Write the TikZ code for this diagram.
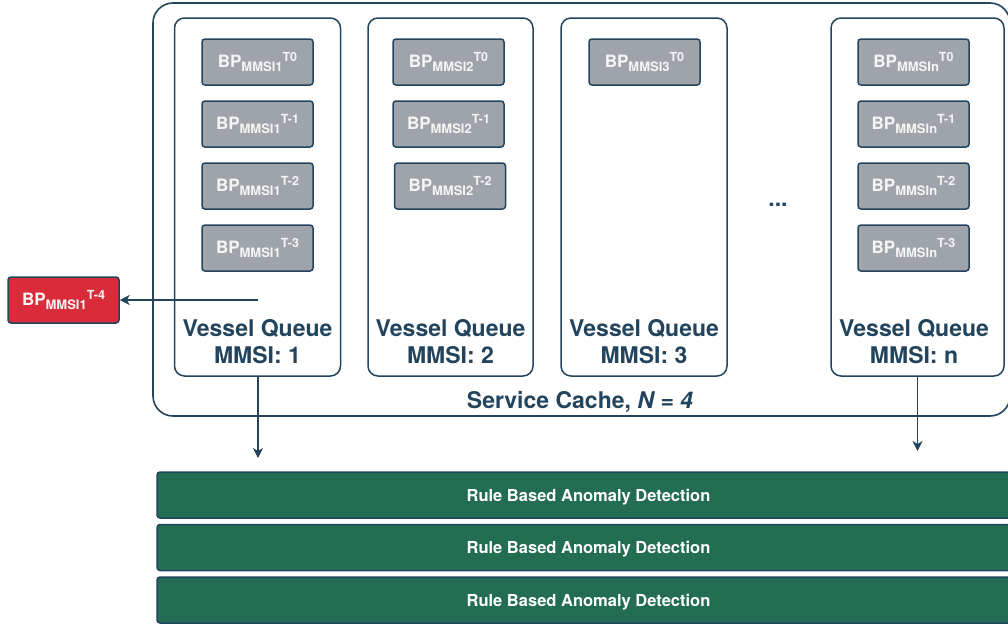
\documentclass[tikz,border=0pt]{standalone}
\usepackage{fontspec}
\setmainfont{TeX Gyre Heros}
\usetikzlibrary{arrows.meta}

\definecolor{navy}{HTML}{23445D}
\definecolor{boxgray}{HTML}{9FA3AA}
\definecolor{alertred}{HTML}{D92B3A}
\definecolor{rulegreen}{HTML}{236E52}
\definecolor{softwhite}{HTML}{F5F5F5}

% BP label with a subscript followed by a superscript
\newcommand{\bplabel}[2]{BP\raisebox{-4pt}{\fontsize{13}{13}\selectfont #1}\raisebox{6.5pt}{\fontsize{12.5}{12.5}\selectfont #2}}

\tikzset{
  cachebox/.style={draw=navy, line width=1.6pt, rounded corners=20pt,
    minimum width=857pt, minimum height=413pt, inner sep=0pt},
  queuebox/.style={draw=navy, line width=1.5pt, rounded corners=10pt,
    minimum height=358pt, inner sep=0pt},
  bpbox/.style={draw=navy, fill=boxgray, line width=1.5pt, rounded corners=3pt,
    minimum width=111pt, minimum height=46pt, inner sep=0pt,
    text=softwhite, font=\fontsize{17}{17}\selectfont\bfseries},
  evictbox/.style={bpbox, fill=alertred},
  queuetext/.style={text=navy, align=center, inner sep=0pt,
    font=\fontsize{23}{27}\selectfont\bfseries},
  rulebar/.style={draw=navy, fill=rulegreen, line width=1.5pt, rounded corners=3pt,
    minimum width=863pt, minimum height=46pt, inner sep=0pt, text depth=0pt,
    text=white, font=\fontsize{16.5}{16.5}\selectfont\bfseries},
  arr/.style={draw=navy, line width=1.5pt,
    -{Stealth[length=10pt, width=10pt, inset=3pt]}}
}

\begin{document}
\begin{tikzpicture}[x=1pt, y=-1pt]
  \useasboundingbox (0,0) rectangle (1008,624);
  \clip (0,0) rectangle (1008,624);

  % service cache
  \node[cachebox] (cache) at (581.5,209.5) {};
  \node[queuetext] (cachetext) at (580,402) {Service Cache, \textit{N = 4}};

  % vessel queues
  \node[queuebox, minimum width=166pt] (q1) at (257.5,197) {};
  \node[queuebox, minimum width=165pt] (q2) at (450.5,197) {};
  \node[queuebox, minimum width=166pt] (q3) at (644,197) {};
  \node[queuebox, minimum width=173pt] (qn) at (917.5,197) {};

  \node[queuetext] (q1t) at (257.5,341.5) {Vessel Queue\\MMSI: 1};
  \node[queuetext] (q2t) at (450.5,341.5) {Vessel Queue\\MMSI: 2};
  \node[queuetext] (q3t) at (644,341.5) {Vessel Queue\\MMSI: 3};
  \node[queuetext] (qnt) at (914,341.5) {Vessel Queue\\MMSI: n};

  \node[queuetext, anchor=base] (dots) at (778,206) {...};

  % buffered positions, queue 1
  \node[bpbox] (b10) at (257.5,62)  {\bplabel{MMSI1}{T0}};
  \node[bpbox] (b11) at (257.5,124) {\bplabel{MMSI1}{T-1}};
  \node[bpbox] (b12) at (257.5,186) {\bplabel{MMSI1}{T-2}};
  \node[bpbox] (b13) at (257.5,248) {\bplabel{MMSI1}{T-3}};

  % queue 2
  \node[bpbox] (b20) at (448.5,62)  {\bplabel{MMSI2}{T0}};
  \node[bpbox] (b21) at (448.5,124) {\bplabel{MMSI2}{T-1}};
  \node[bpbox] (b22) at (450,186)   {\bplabel{MMSI2}{T-2}};

  % queue 3
  \node[bpbox] (b30) at (644.5,62)  {\bplabel{MMSI3}{T0}};

  % queue n
  \node[bpbox] (bn0) at (913.5,62)  {\bplabel{MMSIn}{T0}};
  \node[bpbox] (bn1) at (913.5,124) {\bplabel{MMSIn}{T-1}};
  \node[bpbox] (bn2) at (913.5,186) {\bplabel{MMSIn}{T-2}};
  \node[bpbox] (bn3) at (913.5,248) {\bplabel{MMSIn}{T-3}};

  % evicted position
  \node[evictbox] (evicted) at (63.5,300) {\bplabel{MMSI1}{T-4}};
  \coordinate (evictfrom) at (258,300);
  \draw[arr] (evictfrom) -- (evicted.east);

  % outputs to rule based detection
  \coordinate (out1) at (258,458);
  \coordinate (outn) at (917.5,451);
  \draw[arr] (q1.south -| out1) -- (out1);
  \draw[arr] (qn.south) -- (outn);

  % rule based anomaly detection stages
  \node[rulebar] (rule1) at (588.5,495)   {Rule Based Anomaly Detection};
  \node[rulebar] (rule2) at (588.5,547.5) {Rule Based Anomaly Detection};
  \node[rulebar] (rule3) at (588.5,600)   {Rule Based Anomaly Detection};
\end{tikzpicture}
\end{document}
